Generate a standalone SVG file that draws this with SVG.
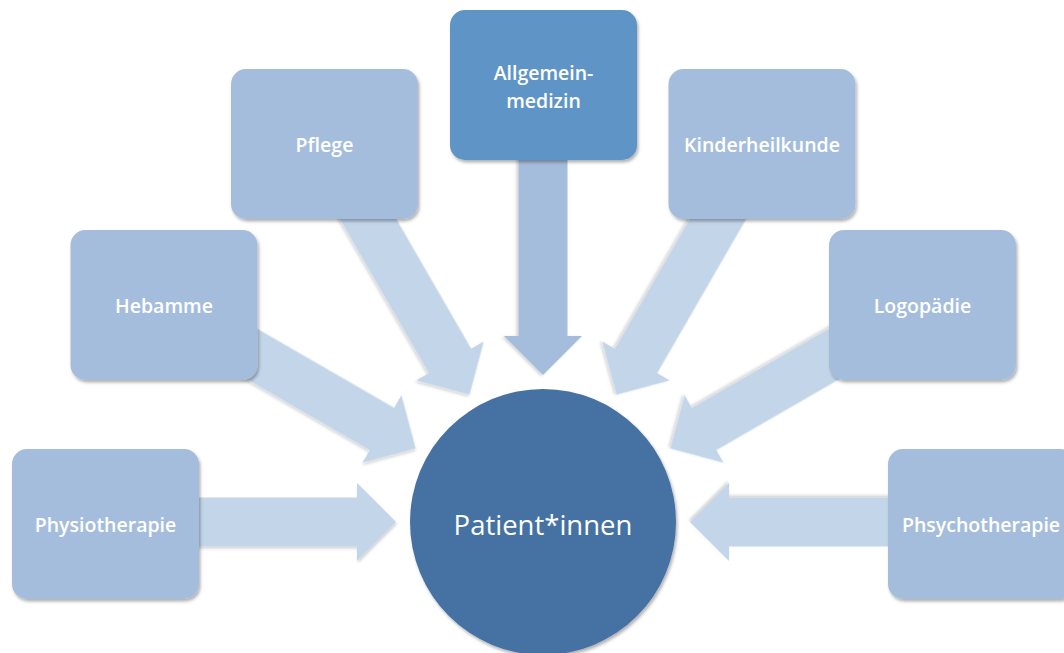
<svg xmlns="http://www.w3.org/2000/svg" width="1064" height="653" viewBox="0 0 1064 653">
<style>
.box{fill:#A5BDDC;filter:url(#sh)}
.box.dark{fill:#5E95C6}
.arr{fill:#C3D6E9;filter:url(#shs)}
.arr.mid{fill:#A5BDDC}
.lbl{font-family:"Open Sans","Liberation Sans",sans-serif;font-size:19.5px;font-weight:600;fill:#FFFFFF;text-anchor:middle;dominant-baseline:central}
.big{font-size:27.5px;font-weight:400}
</style>
<defs>
<filter id="sh" x="-10%" y="-10%" width="125%" height="125%">
<feDropShadow dx="1.5" dy="2.5" stdDeviation="1.8" flood-color="#000" flood-opacity="0.3"/>
</filter>
<filter id="shs" x="-10%" y="-20%" width="125%" height="140%">
<feDropShadow dx="1" dy="2" stdDeviation="1.5" flood-color="#000" flood-opacity="0.18"/>
</filter>
<path id="ap" d="M0,0 L-39,-39 L-39,-24.5 L-290,-24.5 L-290,24.5 L-39,24.5 L-39,39 Z"/>
</defs>
<rect width="1064" height="653" fill="#FFFFFF"/>
<g id="connectors">
<use href="#ap" class="arr" transform="translate(396,522) rotate(0)"/>
<use href="#ap" class="arr" transform="translate(415.7,448.5) rotate(30)"/>
<use href="#ap" class="arr" transform="translate(469.5,394.7) rotate(60)"/>
<use href="#ap" class="arr mid" transform="translate(543,375) rotate(90)"/>
<use href="#ap" class="arr" transform="translate(616.5,394.7) rotate(120)"/>
<use href="#ap" class="arr" transform="translate(670.3,448.5) rotate(150)"/>
<use href="#ap" class="arr" transform="translate(690,522) rotate(180)"/>
</g>
<g id="physiotherapie">
<rect class="box" x="12" y="449" width="187" height="150" rx="15"/>
<text class="lbl" x="105.5" y="524">Physiotherapie</text>
</g>
<g id="hebamme">
<rect class="box" x="70.5" y="230" width="187" height="150" rx="15"/>
<text class="lbl" x="164" y="305">Hebamme</text>
</g>
<g id="pflege">
<rect class="box" x="231" y="69" width="187" height="150" rx="15"/>
<text class="lbl" x="324.5" y="144">Pflege</text>
</g>
<g id="allgemeinmedizin">
<rect class="box dark" x="450" y="10" width="187" height="150" rx="15"/>
<text class="lbl" x="543.5" y="72">Allgemein-</text>
<text class="lbl" x="543.5" y="100">medizin</text>
</g>
<g id="kinderheilkunde">
<rect class="box" x="668.5" y="69" width="187" height="150" rx="15"/>
<text class="lbl" x="762" y="144">Kinderheilkunde</text>
</g>
<g id="logopaedie">
<rect class="box" x="829" y="230" width="187" height="150" rx="15"/>
<text class="lbl" x="922.5" y="305">Logopädie</text>
</g>
<g id="phsychotherapie">
<rect class="box" x="888" y="449" width="187" height="150" rx="15"/>
<text class="lbl" x="981" y="524">Phsychotherapie</text>
</g>
<g id="patientinnen">
<circle cx="543" cy="522" r="133" fill="#4572A3" filter="url(#sh)"/>
<text class="lbl big" x="543" y="524">Patient*innen</text>
</g>
</svg>
